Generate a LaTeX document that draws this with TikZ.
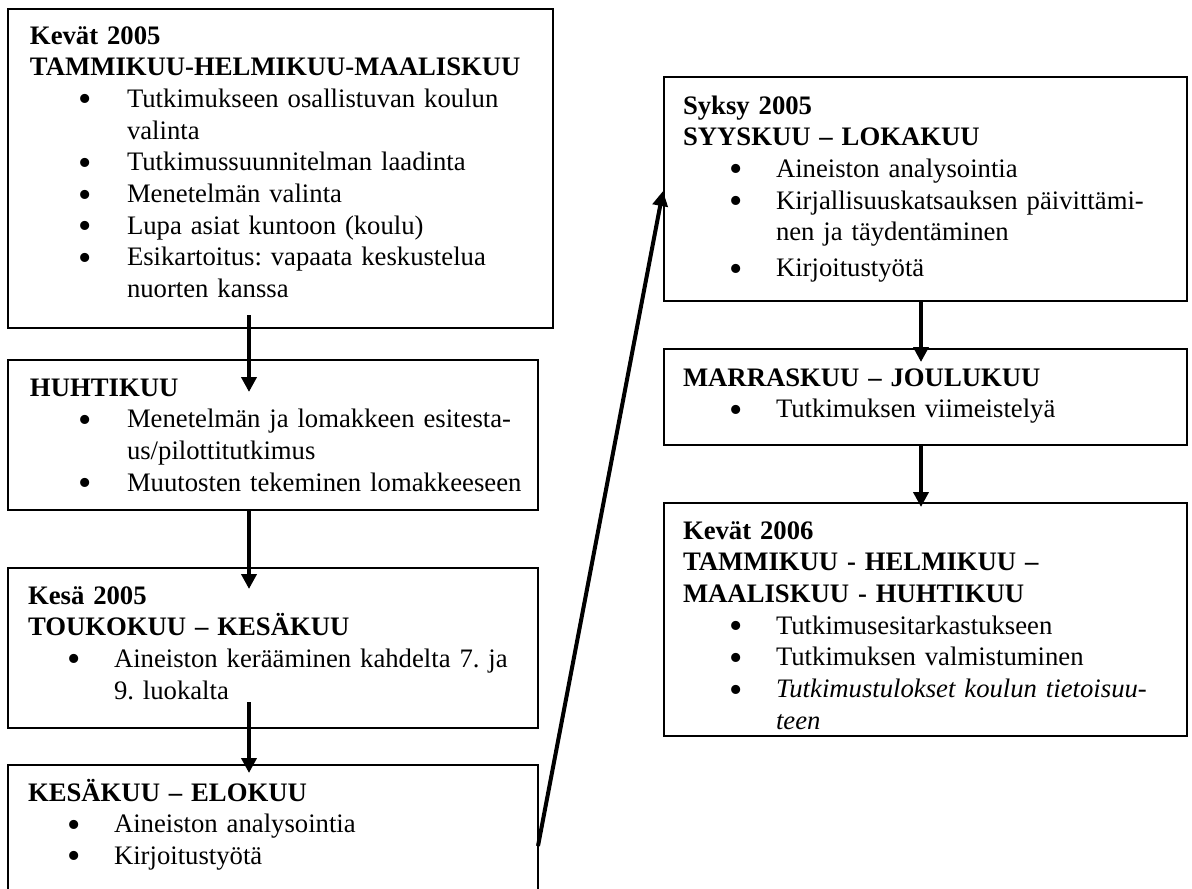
\documentclass[tikz,border=0pt]{standalone}
\usepackage{fontspec}
\setmainfont{Liberation Serif}
\usetikzlibrary{arrows.meta,calc}

% large round list bullet, kept out of the line height
\newcommand\bigdot{\smash{\raisebox{-4.5pt}{\fontsize{38}{0}\selectfont\textbullet}}}
% bullet item: #1 = text indent, #2 = bullet column width, #3 = item text
\newcommand\bitem[3]{\par\leftskip=#1\relax\noindent\llap{\makebox[#2][l]{\hspace{-2pt}\bigdot}}#3}
% bold heading lines that open a box
\newcommand\headline[1]{\textbf{#1}}

\begin{document}
\begin{tikzpicture}[x=1pt,y=-1pt,
  frame/.style={draw, line width=1.6pt, inner sep=0pt, outer sep=0pt, anchor=north west},
  txt/.style={inner sep=0pt, outer sep=0pt, anchor=base west,
              font=\fontsize{26.7}{31.7}\selectfont\frenchspacing},
  flow/.style={line width=4pt, -{Triangle[length=15pt,width=15pt]}}]
\useasboundingbox (0,0) rectangle (1192,889);
\clip (0,0) rectangle (1192,889);

% phase boxes
\node[frame, minimum width=545pt, minimum height=319pt] (b1) at (8,9) {};
\node[frame, minimum width=530pt, minimum height=150pt] (b2) at (8,360) {};
\node[frame, minimum width=530pt, minimum height=160pt] (b3) at (8,568) {};
\node[frame, minimum width=530pt, minimum height=160pt] (b4) at (8,765) {};
\node[frame, minimum width=523pt, minimum height=224pt] (b5) at (664,77) {};
\node[frame, minimum width=523pt, minimum height=96pt]  (b6) at (664,349) {};
\node[frame, minimum width=523pt, minimum height=233pt] (b7) at (664,503) {};

% box contents
\node[txt, text width=515pt] (t1) at (30,44) {%
  \headline{Kevät 2005\newline TAMMIKUU-HELMIKUU-MAALISKUU}%
  \bitem{97pt}{47pt}{Tutkimukseen osallistuvan koulun\newline valinta}%
  \bitem{97pt}{47pt}{Tutkimussuunnitelman laadinta}%
  \bitem{97pt}{47pt}{Menetelmän valinta}%
  \bitem{97pt}{47pt}{Lupa asiat kuntoon (koulu)}%
  \bitem{97pt}{47pt}{Esikartoitus: vapaata keskustelua\newline nuorten kanssa}\par};

\node[txt, text width=500pt] (t2) at (30,396) {%
  \headline{HUHTIKUU}%
  \bitem{97pt}{47pt}{Menetelmän ja lomakkeen esitesta-\newline us/pilottitutkimus}%
  \bitem{97pt}{47pt}{Muutosten tekeminen lomakkeeseen}\par};

\node[txt, text width=500pt] (t3) at (28,604) {%
  \headline{Kesä 2005\newline TOUKOKUU – KESÄKUU}%
  \bitem{86pt}{45pt}{Aineiston kerääminen kahdelta 7. ja\newline 9. luokalta}\par};

\node[txt, text width=500pt] (t4) at (28,801) {%
  \headline{KESÄKUU – ELOKUU}%
  \bitem{86pt}{45pt}{Aineiston analysointia}%
  \bitem{86pt}{45pt}{Kirjoitustyötä}\par};

\node[txt, text width=495pt] (t5) at (683,114) {%
  \headline{Syksy 2005\newline SYYSKUU – LOKAKUU}%
  \bitem{93pt}{45pt}{Aineiston analysointia}%
  \bitem{93pt}{45pt}{Kirjallisuuskatsauksen päivittämi-\newline nen ja täydentäminen}%
  \par\vspace{4pt}%
  \bitem{93pt}{45pt}{Kirjoitustyötä}\par};

\node[txt, text width=495pt] (t6) at (683,386) {%
  \headline{MARRASKUU – JOULUKUU}%
  \bitem{93pt}{45pt}{Tutkimuksen viimeistelyä}\par};

\node[txt, text width=495pt] (t7) at (683,539) {%
  \headline{Kevät 2006\newline TAMMIKUU - HELMIKUU –\newline MAALISKUU - HUHTIKUU}%
  \bitem{93pt}{45pt}{Tutkimusesitarkastukseen}%
  \bitem{93pt}{45pt}{Tutkimuksen valmistuminen}%
  \bitem{93pt}{45pt}{\textit{Tutkimustulokset koulun tietoisuu-\newline teen}}\par};

% flow between phases
\draw[flow] ($(b1.south west)+(241,-13)$) -- ($(b2.north west)+(241,32)$);
\draw[flow] ($(b2.south west)+(241,0)$)   -- ($(b3.north west)+(241,21)$);
\draw[flow] ($(b3.south west)+(241,-26)$) -- ($(b4.north west)+(241,8)$);
\draw[flow] ($(b4.north east)+(0,81)$)    -- ($(b5.north west)+(-1,114)$);
\draw[flow] ($(b5.south west)+(257,0)$)   -- ($(b6.north west)+(257,13)$);
\draw[flow] ($(b6.south west)+(257,0)$)   -- ($(b7.north west)+(257,4)$);
\end{tikzpicture}
\end{document}
